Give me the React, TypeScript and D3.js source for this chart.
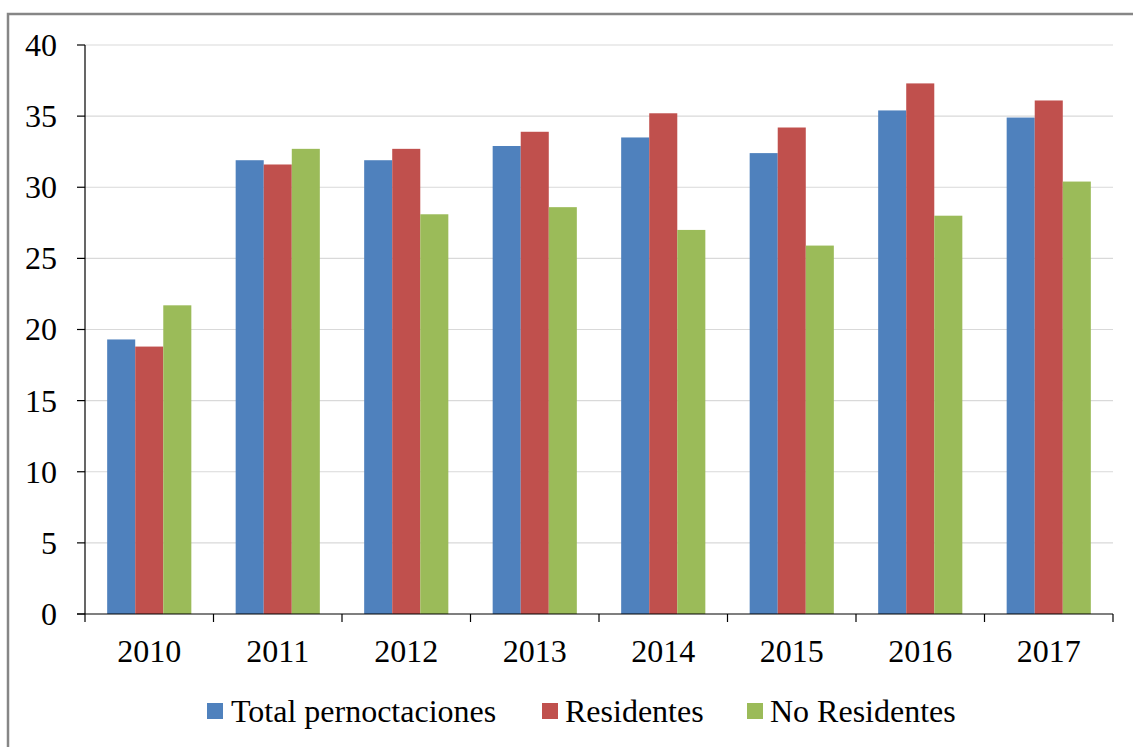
import React from "react";
import * as d3 from "d3";

const years = ["2010", "2011", "2012", "2013", "2014", "2015", "2016", "2017"];
const totalPernoctaciones = [19.3, 31.9, 31.9, 32.9, 33.5, 32.4, 35.4, 34.9];
const residentes = [18.8, 31.6, 32.7, 33.9, 35.2, 34.2, 37.3, 36.1];
const noResidentes = [21.7, 32.7, 28.1, 28.6, 27.0, 25.9, 28.0, 30.4];
const seriesNames = ["Total pernoctaciones", "Residentes", "No Residentes"];
const seriesColors = ["#4f81bd", "#c0504d", "#9bbb59"];
const yTicks = [0, 5, 10, 15, 20, 25, 30, 35, 40];

const W = 1133;
const H = 747;
const left = 85;
const right = 1113;
const top = 45;
const bottom = 614;
const FONT = "'Liberation Serif', 'Times New Roman', serif";
const FS = 32;

export default function App() {
  const series = [totalPernoctaciones, residentes, noResidentes];
  const x = d3.scaleBand<string>().domain(years).range([left, right]).paddingInner(0).paddingOuter(0);
  const y = d3.scaleLinear().domain([0, 40]).range([bottom, top]);
  const groupWidth = x.bandwidth() * 0.655;
  const inner = d3
    .scaleBand<number>()
    .domain([0, 1, 2])
    .range([(x.bandwidth() - groupWidth) / 2, (x.bandwidth() + groupWidth) / 2]);

  const legendItems = [
    { sq: 207, tx: 231 },
    { sq: 542, tx: 565 },
    { sq: 747, tx: 770 },
  ];

  return (
    <div style={{ position: "fixed", left: 0, top: 0 }}>
      <svg width={W} height={H} style={{ display: "block", background: "#fff" }}>
        <rect x={8} y={14} width={1200} height={800} fill="#fff" stroke="#868686" strokeWidth={2.5} />
        {yTicks.slice(1).map((t) => (
          <line key={"g" + t} x1={left} x2={right} y1={y(t)} y2={y(t)} stroke="#d9d9d9" strokeWidth={1.2} />
        ))}
        {series.map((vals, si) =>
          years.map((yr, i) => (
            <rect
              key={si + "-" + yr}
              x={(x(yr) as number) + (inner(si) as number)}
              y={y(vals[i])}
              width={inner.bandwidth()}
              height={bottom - y(vals[i])}
              fill={seriesColors[si]}
            />
          ))
        )}
        <line x1={left} x2={left} y1={top} y2={bottom} stroke="#000" strokeWidth={1.2} />
        <line x1={left - 8} x2={right} y1={bottom} y2={bottom} stroke="#000" strokeWidth={1.2} />
        {yTicks.map((t) => (
          <g key={"yt" + t}>
            <line x1={left - 8} x2={left} y1={y(t)} y2={y(t)} stroke="#000" strokeWidth={1.2} />
            <text x={57} y={y(t)} dy="0.34em" textAnchor="end" fontFamily={FONT} fontSize={FS} fill="#000">
              {t}
            </text>
          </g>
        ))}
        {years.map((yr) => (
          <line key={"xt" + yr} x1={x(yr)} x2={x(yr)} y1={bottom} y2={bottom + 8} stroke="#000" strokeWidth={1.2} />
        ))}
        <line x1={right} x2={right} y1={bottom} y2={bottom + 8} stroke="#000" strokeWidth={1.2} />
        {years.map((yr) => (
          <text
            key={"xl" + yr}
            x={(x(yr) as number) + x.bandwidth() / 2}
            y={662}
            textAnchor="middle"
            fontFamily={FONT}
            fontSize={FS}
            fill="#000"
          >
            {yr}
          </text>
        ))}
        {seriesNames.map((name, i) => (
          <g key={"lg" + name}>
            <rect x={legendItems[i].sq} y={703} width={16} height={16} fill={seriesColors[i]} />
            <text x={legendItems[i].tx} y={722} fontFamily={FONT} fontSize={FS} fill="#000">
              {name}
            </text>
          </g>
        ))}
      </svg>
    </div>
  );
}
